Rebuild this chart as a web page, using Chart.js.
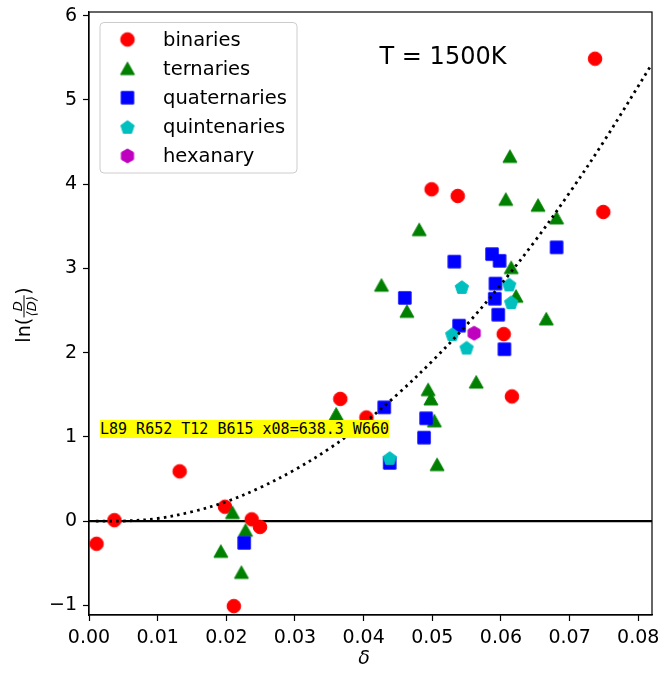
<!DOCTYPE html>
<html>
<head>
<meta charset="utf-8">
<script src="https://cdn.jsdelivr.net/npm/chart.js@4.4.0/dist/chart.umd.min.js"></script>
<style>
body { margin: 0; background: #fff; }
canvas { display: block; }
</style>
</head>
<body>
<canvas id="myChart" width="660" height="673"></canvas>
<div id="out" style="position:absolute;left:100px;top:420px;font:15px monospace;background:#ff0"></div>
<script>
// values
const binariesX = [0.0011, 0.0037, 0.0132, 0.0198, 0.0237, 0.0249, 0.0211, 0.0366, 0.0404, 0.0499, 0.0537, 0.0604, 0.0616, 0.0737, 0.0749];
const binariesY = [-0.27, 0.01, 0.59, 0.17, 0.02, -0.07, -1.01, 1.45, 1.23, 3.94, 3.86, 2.22, 1.48, 5.49, 3.67];

const ternariesX = [0.0209, 0.0192, 0.0228, 0.0222, 0.0360, 0.0494, 0.0498, 0.0503, 0.0507, 0.0564, 0.0613, 0.0607, 0.0654, 0.0681, 0.0481, 0.0615, 0.0426, 0.0622, 0.0463, 0.0666];
const ternariesY = [0.10, -0.36, -0.11, -0.61, 1.27, 1.56, 1.45, 1.19, 0.67, 1.65, 4.33, 3.82, 3.75, 3.60, 3.46, 3.01, 2.80, 2.67, 2.49, 2.40];

const quaternariesX = [0.0226, 0.0430, 0.0491, 0.0488, 0.0438, 0.0605, 0.0681, 0.0532, 0.0587, 0.0598, 0.0592, 0.0591, 0.0460, 0.0596, 0.0539];
const quaternariesY = [-0.26, 1.35, 1.22, 0.99, 0.69, 2.04, 3.25, 3.08, 3.17, 3.09, 2.82, 2.64, 2.65, 2.45, 2.32];

const quintenariesX = [0.0438, 0.0550, 0.0529, 0.0612, 0.0543, 0.0615];
const quintenariesY = [0.75, 2.06, 2.22, 2.81, 2.78, 2.60];

const hexanaryX = [0.0561];
const hexanaryY = [2.23];

// dotted fit curve, read at a few x positions
const fitX = [0.001, 0.005, 0.01, 0.015, 0.02, 0.025, 0.03, 0.035, 0.04, 0.045, 0.05, 0.055, 0.06, 0.065, 0.07, 0.075, 0.082];
const fitY = [0.0, 0.0, 0.03, 0.11, 0.23, 0.40, 0.61, 0.86, 1.16, 1.51, 1.90, 2.33, 2.81, 3.33, 3.90, 4.51, 5.43];

const xTicks = [0, 0.01, 0.02, 0.03, 0.04, 0.05, 0.06, 0.07, 0.08];
const yTicks = [-1, 0, 1, 2, 3, 4, 5, 6];

const FONT = '"DejaVu Sans", sans-serif';

function toPoints(xs, ys) {
    return xs.map((x, i) => ({ x: x, y: ys[i] }));
}

function makeMarker(shape, color) {
    const c = document.createElement('canvas');
    c.width = 18;
    c.height = 18;
    const ctx = c.getContext('2d');
    const m = 9;
    ctx.fillStyle = color;
    ctx.strokeStyle = color;
    ctx.lineWidth = 1;
    ctx.beginPath();
    if (shape === 'circle') {
        ctx.arc(m, m, 6.8, 0, 2 * Math.PI);
    } else if (shape === 'triangle') {
        ctx.moveTo(m, m - 6.5);
        ctx.lineTo(m + 7, m + 6);
        ctx.lineTo(m - 7, m + 6);
        ctx.closePath();
    } else if (shape === 'square') {
        ctx.rect(m - 6.2, m - 6.2, 12.4, 12.4);
    } else {
        const n = shape === 'pentagon' ? 5 : 6;
        const r = 7;
        for (let i = 0; i < n; i++) {
            const a = -Math.PI / 2 + i * 2 * Math.PI / n;
            const px = m + r * Math.cos(a);
            const py = m + r * Math.sin(a) + (shape === 'pentagon' ? 0.8 : 0);
            if (i === 0) ctx.moveTo(px, py); else ctx.lineTo(px, py);
        }
        ctx.closePath();
    }
    ctx.fill();
    ctx.stroke();
    return c;
}

const series = [
    { label: 'binaries', xs: binariesX, ys: binariesY, marker: makeMarker('circle', '#ff0000') },
    { label: 'ternaries', xs: ternariesX, ys: ternariesY, marker: makeMarker('triangle', '#008000') },
    { label: 'quaternaries', xs: quaternariesX, ys: quaternariesY, marker: makeMarker('square', '#0000ff') },
    { label: 'quintenaries', xs: quintenariesX, ys: quintenariesY, marker: makeMarker('pentagon', '#00bfbf') },
    { label: 'hexanary', xs: hexanaryX, ys: hexanaryY, marker: makeMarker('hexagon', '#bf00bf') }
];

let datasets = series.map((s, i) => ({
    label: s.label,
    data: toPoints(s.xs, s.ys),
    pointStyle: s.marker,
    pointRadius: 7,
    pointHoverRadius: 7,
    showLine: false,
    order: 10 - i
}));

datasets.push({
    label: 'zero',
    data: [{ x: 0, y: 0 }, { x: 0.082, y: 0 }],
    showLine: true,
    borderColor: '#000',
    borderWidth: 2.2,
    pointRadius: 0,
    order: 20
});

datasets.push({
    label: 'fit',
    data: toPoints(fitX, fitY),
    showLine: true,
    borderColor: '#000',
    borderWidth: 2.8,
    borderDash: [2.6, 4.2],
    tension: 0.35,
    pointRadius: 0,
    order: 0
});

const noPadding = () => ({ left: 0, right: 0, top: 0, bottom: 0 });

const extras = {
    id: 'extras',
    afterDraw(chart) {
        const ctx = chart.ctx;
        const a = chart.chartArea;
        const xScale = chart.scales.x;
        ctx.save();

        ctx.strokeStyle = '#000';
        ctx.lineWidth = 1.2;
        ctx.strokeRect(a.left, a.top, a.right - a.left, a.bottom - a.top);

        ctx.fillStyle = '#000';
        ctx.font = '19px ' + FONT;
        ctx.textAlign = 'center';
        ctx.textBaseline = 'alphabetic';
        xTicks.forEach(v => {
            ctx.fillText(v.toFixed(2), xScale.getPixelForValue(v), a.bottom + 28);
        });

        ctx.font = '24px ' + FONT;
        ctx.fillText('T = 1500K', 443, 64);

        const lx = 100, ly = 22.5, lw = 197, lh = 150.5, rr = 4;
        ctx.beginPath();
        ctx.moveTo(lx + rr, ly);
        ctx.arcTo(lx + lw, ly, lx + lw, ly + lh, rr);
        ctx.arcTo(lx + lw, ly + lh, lx, ly + lh, rr);
        ctx.arcTo(lx, ly + lh, lx, ly, rr);
        ctx.arcTo(lx, ly, lx + lw, ly, rr);
        ctx.closePath();
        ctx.fillStyle = 'rgba(255,255,255,0.8)';
        ctx.fill();
        ctx.strokeStyle = '#cccccc';
        ctx.lineWidth = 1;
        ctx.stroke();

        ctx.font = '19.5px ' + FONT;
        ctx.textAlign = 'left';
        ctx.textBaseline = 'middle';
        ctx.fillStyle = '#000';
        series.forEach((s, i) => {
            const y = 39.5 + i * 29.1;
            ctx.drawImage(s.marker, 127.5 - 9, y - 9);
            ctx.fillText(s.label, 163, y + 1);
        });

        ctx.font = 'italic 19px ' + FONT;
        ctx.textAlign = 'center';
        ctx.textBaseline = 'alphabetic';
        ctx.fillText('δ', 364, 664);

        ctx.translate(22, 315);
        ctx.rotate(-Math.PI / 2);
        ctx.font = '19px ' + FONT;
        const w1 = ctx.measureText('ln(').width;
        const w2 = ctx.measureText(')').width;
        ctx.font = 'italic 13px ' + FONT;
        const wNum = ctx.measureText('D').width;
        const wDen = ctx.measureText('⟨D⟩').width;
        const wFrac = Math.max(wNum, wDen) + 3;
        const total = w1 + wFrac + w2;
        let x = -total / 2;
        const base = 8;
        ctx.textAlign = 'left';
        ctx.font = '19px ' + FONT;
        ctx.fillText('ln(', x, base);
        x += w1;
        const bar = base - 6;
        ctx.fillRect(x + 0.5, bar - 0.5, wFrac - 1, 1);
        ctx.font = 'italic 13px ' + FONT;
        ctx.textAlign = 'center';
        ctx.fillText('D', x + wFrac / 2, bar - 2.5);
        ctx.fillText('⟨D⟩', x + wFrac / 2, bar + 11.5);
        x += wFrac;
        ctx.textAlign = 'left';
        ctx.font = '19px ' + FONT;
        ctx.fillText(')', x, base);

        ctx.restore();
    }
};

const myChart = document.getElementById('myChart');

let scatterChart = new Chart(myChart, {
    type: 'scatter',
    data: { datasets: datasets },
    options: {
        responsive: false,
        devicePixelRatio: 1,
        animation: false,
        layout: { padding: { top: 12, right: 5, left: 0, bottom: 0 } },
        plugins: {
            legend: { display: false },
            tooltip: { enabled: false }
        },
        scales: {
            x: {
                type: 'linear',
                min: 0,
                max: 0.082,
                afterBuildTicks: scale => { scale.ticks = xTicks.map(v => ({ value: v })); },
                afterFit: scale => {
                    scale.height = 58;
                    scale.paddingLeft = 0;
                    scale.paddingRight = 0;
                    scale.getPadding = noPadding;
                },
                grid: { display: true, drawOnChartArea: false, drawTicks: true, tickLength: 6, color: '#000', tickWidth: 1.2 },
                border: { display: true, color: '#000', width: 1.2 },
                ticks: { display: false }
            },
            y: {
                type: 'linear',
                min: -1.116,
                max: 6.045,
                afterBuildTicks: scale => { scale.ticks = yTicks.map(v => ({ value: v })); },
                afterFit: scale => {
                    scale.width = 89;
                    scale.paddingTop = 0;
                    scale.paddingBottom = 0;
                    scale.getPadding = noPadding;
                },
                grid: { display: true, drawOnChartArea: false, drawTicks: true, tickLength: 6, color: '#000', tickWidth: 1.2 },
                border: { display: true, color: '#000', width: 1.2 },
                ticks: {
                    color: '#000',
                    font: { family: FONT, size: 19 },
                    padding: 6,
                    autoSkip: false,
                    callback: v => (v < 0 ? '\u2212' + Math.abs(v) : String(v))
                }
            }
        }
    },
    plugins: [extras]
});
const ca = scatterChart.chartArea;
document.getElementById('out').textContent = 'L' + ca.left + ' R' + ca.right + ' T' + ca.top + ' B' + ca.bottom + ' x08=' + scatterChart.scales.x.getPixelForValue(0.08).toFixed(1) + ' W' + scatterChart.width;
</script>
</body>
</html>
